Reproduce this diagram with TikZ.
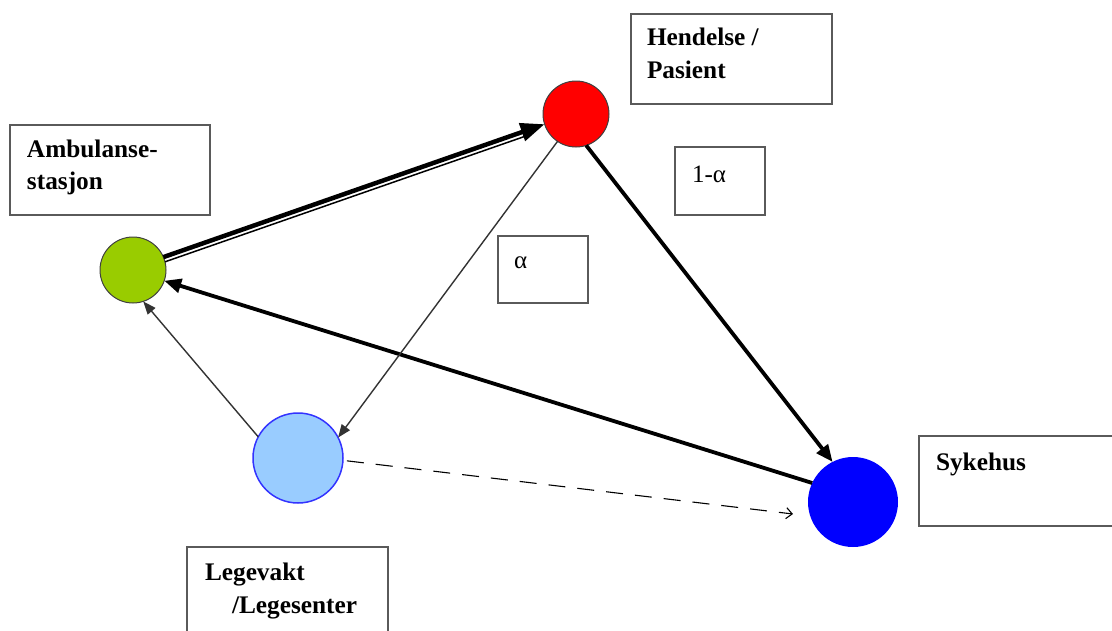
\documentclass[tikz,border=0pt]{standalone}
\usepackage{fontspec}
\setmainfont{Liberation Serif}
\usetikzlibrary{arrows.meta}
\definecolor{boxgray}{HTML}{5A5A5A}
\definecolor{lgreen}{HTML}{99CC00}
\definecolor{lblue}{HTML}{99CCFF}
\definecolor{lblueedge}{HTML}{3333FF}
\definecolor{thingray}{HTML}{333333}
\begin{document}
\begin{tikzpicture}[x=1pt,y=-1pt,
  box/.style={draw=boxgray, line width=1.8pt, inner sep=0pt, outer sep=0pt, anchor=north west},
  lbl/.style={anchor=base west, inner sep=0pt, outer sep=0pt, font=\fontsize{25.3}{30}\selectfont\bfseries},
  greek/.style={anchor=base west, inner sep=0pt, outer sep=0pt, font=\fontsize{25}{30}\selectfont},
  dot/.style={circle, inner sep=0pt, outer sep=0pt},
  thickarrow/.style={line width=3.8pt, -{Triangle[length=17pt,width=14pt]}},
  thinarrow/.style={draw=thingray, line width=1.4pt, -{Triangle[length=13pt,width=10pt]}},
]
\clip (0,0) rectangle (1112,630);
\fill[white] (0,0) rectangle (1112,630);

% boxes
\node[box, minimum width=200pt, minimum height=90pt] (bamb) at (10,125) {};
\node[box, minimum width=201pt, minimum height=90pt] (bhen) at (631,14) {};
\node[box, minimum width=90pt, minimum height=68pt] (bone) at (675,147) {};
\node[box, minimum width=90pt, minimum height=67pt] (balpha) at (498,236) {};
\node[box, minimum width=210pt, minimum height=90pt] (bsyk) at (919,436) {};
\node[box, minimum width=201pt, minimum height=100pt] (bleg) at (187,547) {};

% texts
\node[lbl] (tamb1) at (27,157) {Ambulanse-};
\node[lbl] (tamb2) at (27,189) {stasjon};
\node[lbl] (then1) at (647,45) {Hendelse /};
\node[lbl] (then2) at (647,78) {Pasient};
\node[greek] (tone) at (692,182) {1-α};
\node[greek] (talpha) at (514,268) {α};
\node[lbl] (tsyk) at (936,470) {Sykehus};
\node[lbl] (tleg1) at (205,580) {Legevakt};
\node[lbl] (tleg2) at (232,613) {/Legesenter};

% circles
\node[dot, minimum size=66pt, fill=lgreen, draw=black!75, line width=1pt] (g) at (133,270) {};
\node[dot, minimum size=66pt, fill=red, draw=black!75, line width=1pt] (r) at (576,114) {};
\node[dot, minimum size=90pt, fill=lblue, draw=lblueedge, line width=1.5pt] (lb) at (298,458) {};
\node[dot, minimum size=90pt, fill=blue] (b) at (853,502) {};
\coordinate (dend) at (793,514);

% connectors
\draw[line width=4.5pt, -{Triangle[length=24pt,width=18pt]}] (g.23) -- (r.198);
\draw[line width=1.5pt, shorten >=22pt, transform canvas={shift={(1.65,4.7)}}] (g.23) -- (r.198);
\draw[thickarrow] (r.-72) -- (b.117);
\draw[thickarrow] (b.155) -- (g.-19);
\draw[thinarrow] (r.236) -- (lb.27);
\draw[thinarrow] (lb.152) -- (g.-72);
\draw[line width=1.1pt, dash pattern=on 17pt off 12pt, shorten <=4pt, -{Straight Barb[length=6pt,width=11pt]}] (lb.-3) -- (dend);
\end{tikzpicture}
\end{document}
